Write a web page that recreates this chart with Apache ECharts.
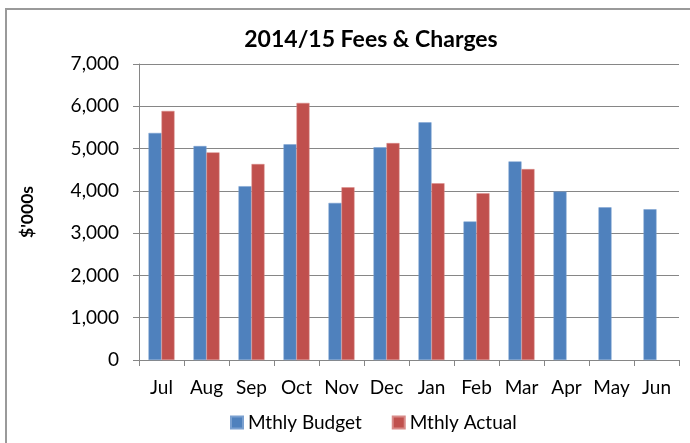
<!DOCTYPE html>
<html>
<head>
<meta charset="utf-8">
<script src="https://cdn.jsdelivr.net/npm/echarts@6/dist/echarts.min.js"></script>
<style>
    html, body { margin: 0; padding: 0; background: #fff; }
    #chart { width: 690px; height: 443px; }
</style>
</head>
<body>
<div id="chart"></div>
<script>
// month labels and monthly values ($'000s)
const months = ['Jul', 'Aug', 'Sep', 'Oct', 'Nov', 'Dec', 'Jan', 'Feb', 'Mar', 'Apr', 'May', 'Jun'];
const mthlyBudget = [5370, 5060, 4110, 5100, 3715, 5030, 5620, 3275, 4695, 3985, 3610, 3565];
const mthlyActual = [5890, 4910, 4635, 6080, 4085, 5130, 4180, 3945, 4515, null, null, null];
const yTicks = { min: 0, max: 7000, interval: 1000 };

const font = 'Lato, "Open Sans", sans-serif';
const chart = echarts.init(document.getElementById('chart'));

chart.setOption({
    animation: false,
    textStyle: { fontFamily: font },
    graphic: [{
        type: 'rect',
        shape: { x: 6, y: 9, width: 720, height: 460 },
        style: { fill: 'none', stroke: '#9a9a9a', lineWidth: 2 },
        silent: true
    }],
    title: {
        text: '2014/15 Fees & Charges',
        left: 366,
        top: 23,
        textAlign: 'center',
        textStyle: { fontFamily: font, fontSize: 23, fontWeight: 'bold', color: '#000' }
    },
    legend: {
        left: 230,
        top: 413,
        padding: 0,
        itemWidth: 12,
        itemHeight: 12,
        itemGap: 30,
        icon: 'rect',
        textStyle: { fontFamily: font, fontSize: 19, color: '#000' },
        data: ['Mthly Budget', 'Mthly Actual']
    },
    grid: { left: 139, right: 11, top: 64, bottom: 83, containLabel: false },
    xAxis: {
        type: 'category',
        data: months,
        axisLine: { lineStyle: { color: '#868686', width: 1 } },
        axisTick: { show: true, length: 6, lineStyle: { color: '#868686' } },
        axisLabel: { color: '#000', fontSize: 19, margin: 18, fontFamily: font, interval: 0, hideOverlap: false }
    },
    yAxis: {
        type: 'value',
        min: yTicks.min,
        max: yTicks.max,
        interval: yTicks.interval,
        name: "$'000s",
        nameLocation: 'middle',
        nameRotate: 90,
        nameGap: 103,
        nameTextStyle: { fontFamily: font, fontSize: 17.5, fontWeight: 'bold', color: '#000' },
        axisLine: { show: true, lineStyle: { color: '#868686' } },
        axisTick: { show: true, length: 6, lineStyle: { color: '#868686' } },
        splitLine: { lineStyle: { color: '#868686', width: 1 } },
        axisLabel: {
            color: '#000', fontSize: 19, margin: 20, fontFamily: font,
            formatter: v => v.toLocaleString('en-US')
        }
    },
    series: [{
        name: 'Mthly Budget',
        type: 'bar',
        data: mthlyBudget,
        barWidth: 13,
        barGap: '0%',
        itemStyle: { color: '#4F81BD', borderColor: '#7aa0d0', borderWidth: 0.5 }
    }, {
        name: 'Mthly Actual',
        type: 'bar',
        data: mthlyActual,
        barWidth: 13,
        barGap: '0%',
        itemStyle: { color: '#C0504D', borderColor: '#d88a88', borderWidth: 0.5 }
    }]
});
</script>
</body>
</html>
